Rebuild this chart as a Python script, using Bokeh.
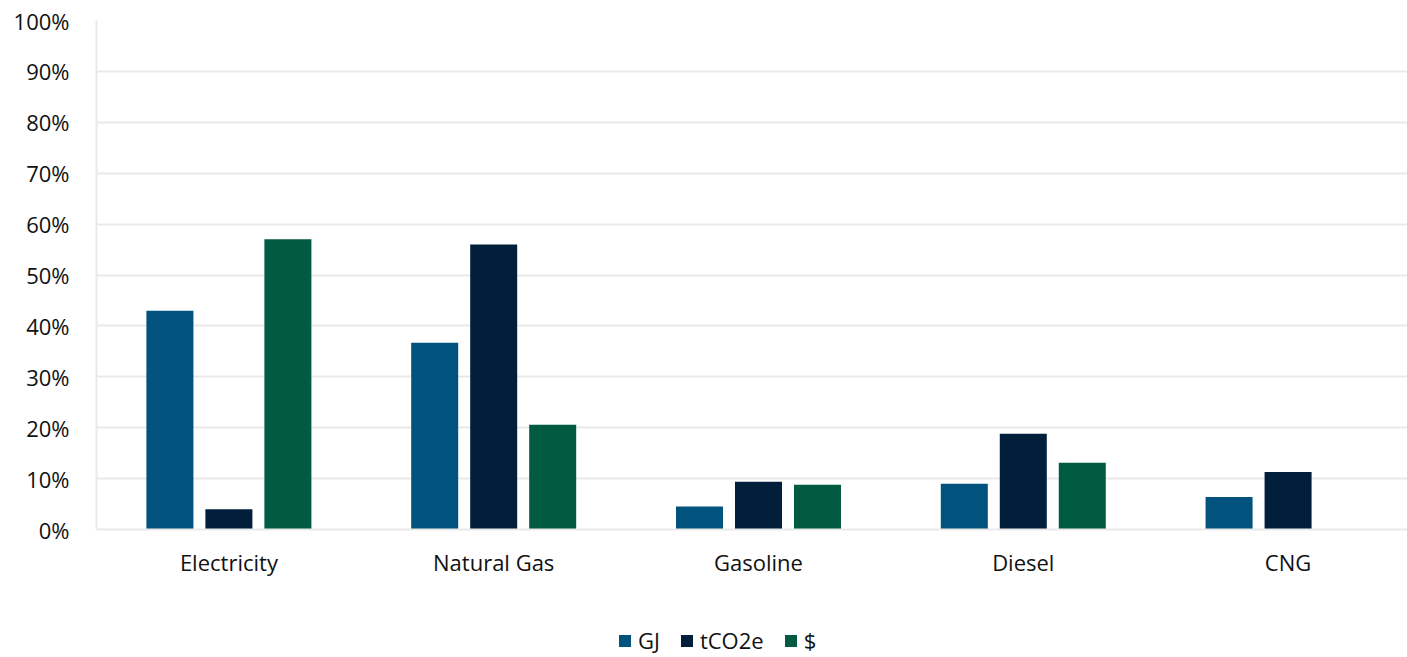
import numpy as np
from bokeh.plotting import figure
from bokeh.layouts import column
from bokeh.models import ColumnDataSource, Legend, LegendItem, NumeralTickFormatter, FixedTicker
from bokeh.transform import dodge
from bokeh.embed import file_html
from bokeh.resources import INLINE

# Share of each fuel type by energy, emissions and cost
fuels = ["Electricity", "Natural Gas", "Gasoline", "Diesel", "CNG"]
gj = [0.43, 0.367, 0.045, 0.09, 0.064]
tco2e = [0.04, 0.56, 0.094, 0.188, 0.113]
cost = [0.57, 0.206, 0.088, 0.131, 0.0]

series_names = ["GJ", "tCO2e", "$"]
colors = ["#01537D", "#011E3B", "#015B40"]
y_ticks = [i / 10 for i in range(11)]

FONT = "Open Sans"
TEXT_COLOR = "#111111"
GRID_COLOR = "#E9E9E9"

pos = np.arange(len(fuels)) + 0.5
source = ColumnDataSource(dict(x=pos, gj=gj, tco2e=tco2e, cost=cost))

p = figure(
    x_range=(0, 4.951),
    y_range=(0, 1),
    width=1407,
    height=614,
    output_backend="svg",
    toolbar_location=None,
    min_border_left=96,
    min_border_right=0,
    min_border_top=20,
    min_border_bottom=85,
)

bar_w = 0.1775
step = 0.2228
for col, off, color in zip(["gj", "tco2e", "cost"], [-step, 0.0, step], colors):
    p.vbar(x=dodge("x", off), top=col, width=bar_w,
           source=source, fill_color=color, line_color=None)

p.outline_line_color = None
p.xgrid.grid_line_color = None
p.ygrid.grid_line_color = GRID_COLOR
p.ygrid.grid_line_width = 2

p.yaxis.ticker = FixedTicker(ticks=y_ticks)
p.yaxis.formatter = NumeralTickFormatter(format="0%")
p.yaxis.axis_line_color = GRID_COLOR
p.yaxis.axis_line_width = 2
p.yaxis.major_tick_line_color = None
p.yaxis.minor_tick_line_color = None
p.yaxis.major_label_text_font = FONT
p.yaxis.major_label_text_font_size = "22px"
p.yaxis.major_label_text_color = TEXT_COLOR
p.yaxis.major_label_standoff = 21

p.xaxis.ticker = FixedTicker(ticks=list(pos))
p.xaxis.major_label_overrides = {float(x): name for x, name in zip(pos, fuels)}
p.xaxis.axis_line_color = GRID_COLOR
p.xaxis.axis_line_width = 2
p.xaxis.major_tick_line_color = None
p.xaxis.minor_tick_line_color = None
p.xaxis.major_label_text_font = FONT
p.xaxis.major_label_text_font_size = "22px"
p.xaxis.major_label_text_color = TEXT_COLOR
p.xaxis.major_label_standoff = 11

# Legend strip under the chart; its key glyphs are zero-height bars
leg = figure(
    width=1407,
    height=43,
    output_backend="svg",
    toolbar_location=None,
    min_border=0,
    x_range=(0, 1),
    y_range=(0, 1),
)
leg.axis.visible = False
leg.grid.visible = False
leg.outline_line_color = None
keys = [leg.vbar(x=[0.5], top=[0], bottom=0, width=0.1, fill_color=c, line_color=None)
        for c in colors]

legend = Legend(
    items=[LegendItem(label=n, renderers=[r]) for n, r in zip(series_names, keys)],
    orientation="horizontal",
    location=(521, 2),
    label_text_font=FONT,
    label_text_font_size="22px",
    label_text_color=TEXT_COLOR,
    glyph_width=15,
    glyph_height=15,
    spacing=19,
    label_standoff=6,
    border_line_color=None,
    background_fill_alpha=0,
    margin=0,
    padding=0,
)
leg.add_layout(legend, "center")

layout = column(p, leg, spacing=0)
open("out.html", "w").write(file_html(layout, INLINE))
